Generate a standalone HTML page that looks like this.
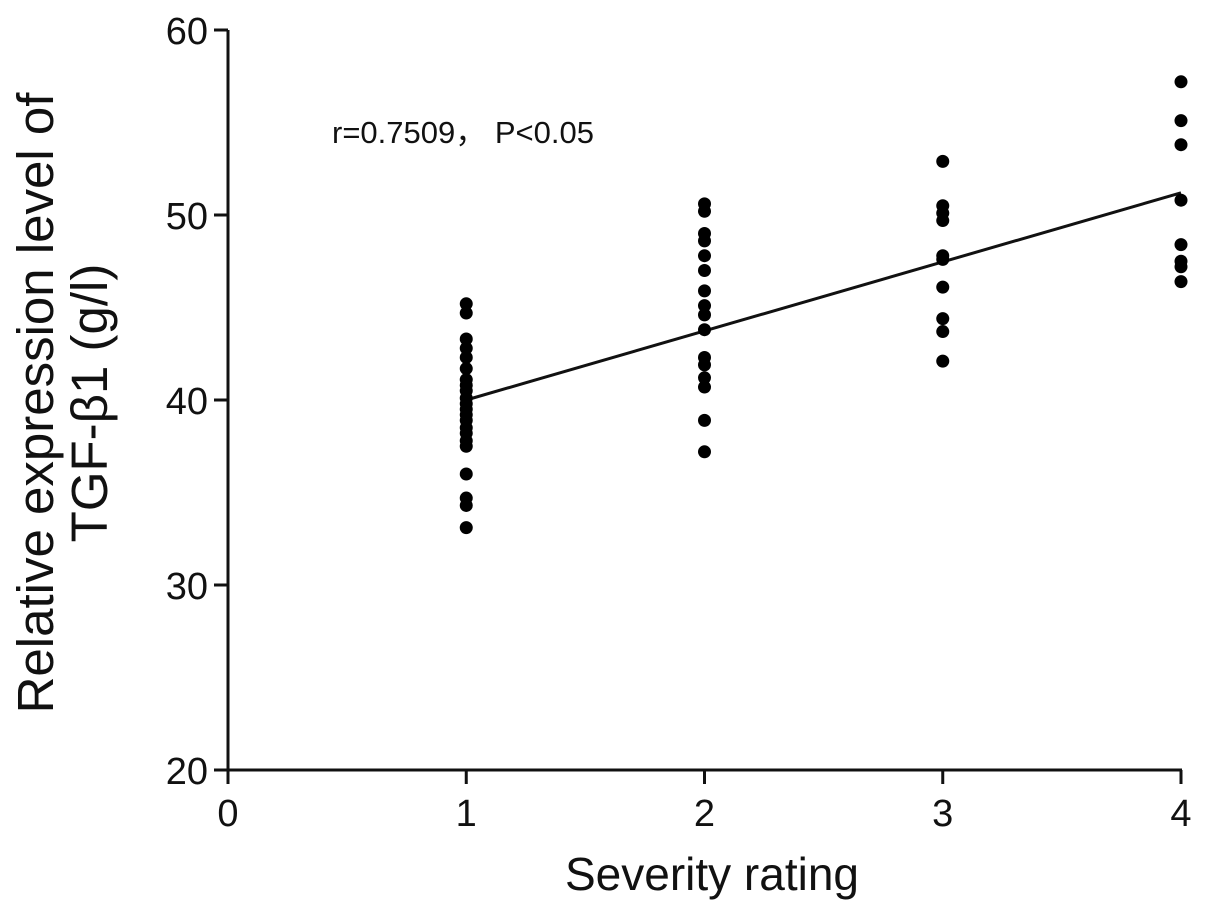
<!DOCTYPE html>
<html><head><meta charset="utf-8"><style>
body{margin:0;background:#fff;}
svg{display:block;font-family:"Liberation Sans",sans-serif;}
</style></head><body>
<svg id="chart" width="1205" height="912" viewBox="0 0 1205 912">
<g id="axes"></g>
<g id="points"></g>
<text x="332" y="143" font-size="31" fill="#111" font-family="Liberation Sans, Noto Sans CJK SC, sans-serif">r=0.7509，&#160;P&lt;0.05</text>
<text x="712" y="890" font-size="46" text-anchor="middle" fill="#111">Severity rating</text>
<g transform="translate(53,403) rotate(-90)">
<text x="0" y="0" font-size="51" text-anchor="middle" fill="#111">Relative expression level of</text>
<text x="0" y="54" font-size="51" text-anchor="middle" fill="#111">TGF-β1 (g/l)</text>
</g>
</svg>
<script>
const xTicks=[0,1,2,3,4];
const yTicks=[20,30,40,50,60];
const group1=[45.2,44.7,43.3,42.8,42.3,41.7,41.1,40.8,40.5,40.1,39.8,39.5,39.2,38.9,38.5,38.2,37.8,37.5,36.0,34.7,34.3,33.1];
const group2=[50.6,50.2,49.0,48.6,47.8,47.0,45.9,45.1,44.6,43.8,42.3,41.9,41.2,40.7,38.9,37.2];
const group3=[52.9,50.5,50.1,49.7,47.8,47.6,46.1,44.4,43.7,42.1];
const group4=[57.2,55.1,53.8,50.8,48.4,47.5,47.2,46.4];
const groups=[group1,group2,group3,group4];
const groupX=[1,2,3,4];
const fitLine=[[1,40.0],[4,51.2]];
const NS="http://www.w3.org/2000/svg";
const X=v=>228+v*(1181-228)/4;
const Y=v=>770-(v-20)*(770-30)/40;
function mk(tag,attrs,parent){const e=document.createElementNS(NS,tag);for(const k in attrs)e.setAttribute(k,attrs[k]);parent.appendChild(e);return e;}
const ax=document.getElementById('axes');
let l=mk('line',{x1:X(0),y1:Y(20),x2:X(4)+1,y2:Y(20),stroke:'#111','stroke-width':3},ax);


l=mk('line',{x1:X(0),y1:Y(20)+1,x2:X(0),y2:Y(60),stroke:'#111','stroke-width':3},ax);


xTicks.forEach(t=>{
 const tk=mk('line',{x1:X(t),y1:Y(20),x2:X(t),y2:Y(20)+14,stroke:'#111','stroke-width':3},ax);
 
 
 const tx=mk('text',{x:X(t),y:Y(20)+56,'font-size':38,'text-anchor':'middle',fill:'#111'},ax);
 tx.textContent=t;
 
 
});
yTicks.forEach(t=>{
 const tk=mk('line',{x1:X(0)-14,y1:Y(t),x2:X(0),y2:Y(t),stroke:'#111','stroke-width':3},ax);
 
 
 const tx=mk('text',{x:X(0)-20,y:Y(t)+14,'font-size':38,'text-anchor':'end',fill:'#111'},ax);
 tx.textContent=t;
 
 
});
const pts=document.getElementById('points');
const fl=mk('line',{x1:X(fitLine[0][0]),y1:Y(fitLine[0][1]),x2:X(fitLine[1][0]),y2:Y(fitLine[1][1]),stroke:'#111','stroke-width':3},pts);


groups.forEach((g,i)=>g.forEach(v=>{
 const c=mk('circle',{cx:X(groupX[i]),cy:Y(v),r:6.5,fill:'#000'},pts);
 
 
}));
</script>
</body></html>
